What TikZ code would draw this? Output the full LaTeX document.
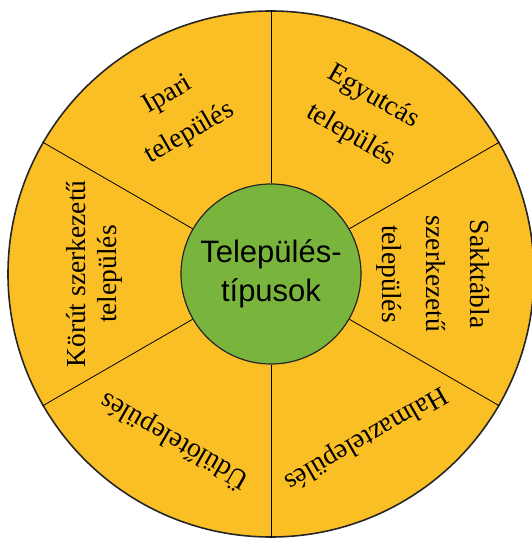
\documentclass[tikz,border=0pt]{standalone}
\usepackage{fontspec}
\setmainfont{Liberation Serif}
\newfontfamily\hubfont{Liberation Sans}

\definecolor{wheelyellow}{RGB}{251,191,38}
\definecolor{hubgreen}{RGB}{121,181,61}

\begin{document}
\begin{tikzpicture}[x=1pt,y=1pt,
  sector/.style={align=center,inner sep=0pt,font=\fontsize{27.5}{44}\selectfont},
  spoke/.style={line width=0.8pt}]
\useasboundingbox (-271,-264) rectangle (260,274);

%Outer wheel
\node [circle,draw=black!85,line width=1.6pt,fill=wheelyellow,minimum size=526pt,inner sep=0pt] (wheel) at (0,0) {};
%Centre circle
\node [circle,draw=black!85,line width=1.2pt,fill=hubgreen,minimum size=180pt,inner sep=0pt,align=center,
  font=\hubfont\fontsize{31}{39}\selectfont] (hub) at (0,0) {Település-\\típusok};

%Spokes
\foreach \a in {30,90,...,330}
  \draw [spoke] (hub.\a) -- (wheel.\a);

% Sector texts
\node [sector,rotate=30] (ipari) at (120:184) {Ipari\\település};
\node [sector,rotate=-30] (egyutcas) at (60:182) {Egyutcás\\település};
\node [sector,rotate=-90] (sakktabla) at (0:162) {Sakktábla\\szerkezetű\\település};
\node [sector,rotate=-150] (halmaz) at (-60:189) {Halmaztelepülés};
\node [sector,rotate=150] (udulo) at (240:193) {Üdülőtelepülés};
\node [sector,rotate=90,font=\fontsize{27.5}{31}\selectfont] (korut) at (180:177) {Körút szerkezetű\\település};

\end{tikzpicture}
\end{document}
